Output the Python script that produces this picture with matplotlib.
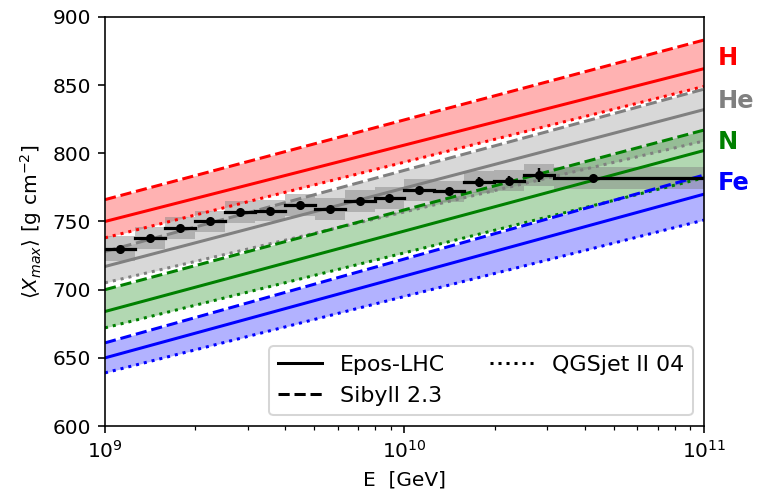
import numpy as np
import matplotlib
matplotlib.use("Agg")
import matplotlib.pyplot as plt
from matplotlib.lines import Line2D

# Model predictions at E=1e9 and E=1e11 GeV (linear in log10 E)
species = ["H", "He", "N", "Fe"]
colors = ["red", "gray", "green", "blue"]
epos_lo = [750, 717, 684, 650]
epos_hi = [862, 832, 802, 770]
sibyll_lo = [766, 728, 700, 661]
sibyll_hi = [883, 847, 817, 784]
qgs_lo = [738, 705, 672, 639]
qgs_hi = [849, 809, 782, 751]
label_y = [870, 838, 808.5, 778]

# Data points
logE = [9.05, 9.15, 9.25, 9.35, 9.45, 9.55, 9.65, 9.75, 9.85, 9.95,
        10.05, 10.15, 10.25, 10.35, 10.45, 10.63]
bin_lo = [9.0, 9.1, 9.2, 9.3, 9.4, 9.5, 9.6, 9.7, 9.8, 9.9,
          10.0, 10.1, 10.2, 10.3, 10.4, 10.5]
bin_hi = [9.1, 9.2, 9.3, 9.4, 9.5, 9.6, 9.7, 9.8, 9.9, 10.0,
          10.1, 10.2, 10.3, 10.4, 10.5, 11.0]
xmax = [730, 738, 745, 750, 757, 758, 762, 759, 765, 767,
        773, 772, 779, 780, 784, 782]
stat = [1.5, 1.5, 1.5, 1.5, 1.5, 1.5, 1.5, 1.5, 1.5, 2,
        2, 2, 3.5, 3, 5, 2]
sys = [9, 8, 8, 8, 8, 8, 8, 8, 8, 8,
       8, 8, 8, 8, 8, 8]

DPI = 145
fig = plt.figure(figsize=(761 / DPI, 496 / DPI), dpi=DPI)
ax = fig.add_axes([0.138, 0.141, 0.787, 0.825])

E_ends = np.array([1e9, 1e11])
for i in range(4):
    c = colors[i]
    ax.fill_between(E_ends, [qgs_lo[i], qgs_hi[i]], [sibyll_lo[i], sibyll_hi[i]],
                    color=c, alpha=0.3, lw=0)
    ax.plot(E_ends, [epos_lo[i], epos_hi[i]], color=c, lw=1.5, ls='-')
    ax.plot(E_ends, [sibyll_lo[i], sibyll_hi[i]], color=c, lw=1.5, ls='--')
    ax.plot(E_ends, [qgs_lo[i], qgs_hi[i]], color=c, lw=1.5, ls=':')
    ax.text(1.023, (label_y[i] - 600) / 300, species[i], color=c,
            transform=ax.transAxes, fontsize=12, fontweight='bold',
            ha='left', va='center')

for j in range(len(logE)):
    x0 = 10 ** bin_lo[j]
    x1 = 10 ** bin_hi[j]
    ax.fill_between([x0, x1], [xmax[j] - sys[j]] * 2, [xmax[j] + sys[j]] * 2,
                    color='gray', alpha=0.45, lw=0)
    ax.plot([x0, x1], [xmax[j], xmax[j]], color='black', lw=1.6)
    ax.errorbar([10 ** logE[j]], [xmax[j]], yerr=[stat[j]], fmt='o',
                color='black', ms=3.5, lw=1.2)

ax.set_xscale('log')
ax.set_xlim(1e9, 1e11)
ax.set_ylim(600, 900)
ax.set_yticks(np.arange(600, 901, 50))
ax.set_xlabel('E  [GeV]')
ax.set_ylabel(r'$\langle X_{max}\rangle$ [g cm$^{-2}$]')

handles = [Line2D([], [], color='black', lw=1.5, ls='-'),
           Line2D([], [], color='black', lw=1.5, ls='--'),
           Line2D([], [], color='black', lw=1.5, ls=':')]
ax.legend(handles, ['Epos-LHC', 'Sibyll 2.3', 'QGSjet II 04'], ncol=2,
          loc='lower right', fontsize=11)

fig.savefig('out.png', dpi=DPI)
